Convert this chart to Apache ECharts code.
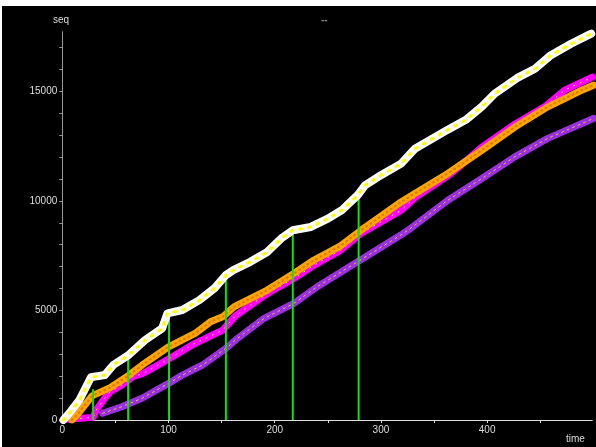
<!DOCTYPE html>
<html>
<head>
<meta charset="utf-8">
<script src="https://cdn.jsdelivr.net/npm/echarts@6/dist/echarts.min.js"></script>
<style>
html,body{margin:0;padding:0;background:#fff;width:596px;height:447px;overflow:hidden;}
#c{position:absolute;left:2px;top:6px;width:594px;height:441px;background:#000;}
</style>
</head>
<body>
<div id="c"></div>
<script>
// ---- data (time, seq) ----
const whiteSeries = [[1,0],[8,400],[16,900],[27,1950],[33,2000],[40,2050],[48,2510],[62,2950],[78,3650],[94,4180],[99,4870],[113,5020],[129,5470],[143,6000],[154,6610],[161,6840],[177,7220],[193,7670],[206,8280],[217,8660],[234,8810],[250,9190],[263,9570],[278,10255],[285,10710],[300,11170],[319,11700],[332,12380],[363,13250],[380,13700],[395,14300],[407,14890],[428,15600],[445,16030],[460,16650],[479,17170],[498,17630]];
const orangeSeries = [[9,0],[14,230],[28,1100],[45,1480],[60,1950],[75,2500],[100,3340],[125,3950],[140,4500],[151,4710],[162,5170],[193,5930],[218,6690],[237,7300],[262,7950],[281,8650],[300,9300],[319,9950],[332,10340],[363,11250],[395,12310],[426,13370],[457,14290],[473,14670],[489,15050],[500,15280]];
const magentaSeries = [[4,30],[29,120],[32,456],[40,1000],[45,1290],[56,1595],[67,2000],[75,2100],[100,2780],[125,3500],[151,4100],[163,4750],[193,5780],[218,6460],[237,7070],[262,7750],[281,8510],[319,9570],[332,10150],[363,11150],[376,11650],[395,12450],[426,13500],[454,14290],[473,15050],[499,15650]];
const purpleSeries = [[38,305],[56,607],[75,990],[100,1670],[113,2050],[132,2510],[154,3270],[163,3650],[190,4640],[218,5320],[240,6080],[278,7220],[319,8450],[328,8750],[363,10030],[395,11020],[426,12010],[457,12850],[500,13760]];
const greenX = [29,62,100.5,154,217,279];
const greenTop = [1400,2820,4700,6350,8550,10200];
const xTicks = [0,50,100,150,200,250,300,350,400,450];
const xLabels = [0,100,200,300,400];
const yTicks = [0,1000,2000,3000,4000,5000,6000,7000,8000,9000,10000,11000,12000,13000,14000,15000,16000,17000];
const yLabels = [0,5000,10000,15000];

const chart = echarts.init(document.getElementById('c'), null, {renderer:'canvas'});
const font = 'Liberation Sans';

function thick(data, color, w){
  return {type:'line', data:data, symbol:'none', smooth:false, silent:true,
    lineStyle:{color:color, width:w, cap:'round', join:'round'}};
}
function overlay(data, color, w, dash){
  return {type:'line', data:data, symbol:'none', smooth:false, silent:true,
    lineStyle:{color:color, width:w, type:dash, cap:'round', join:'round'}};
}
const series = [
  thick(purpleSeries, '#9a30e0', 7),
  overlay(purpleSeries, '#e8c040', 1, [2,4]),
  thick(magentaSeries, '#ff00ff', 7),
  overlay(magentaSeries, '#ffee40', 1, [1,6]),
  thick(orangeSeries, '#ffa500', 7),
  overlay(orangeSeries, '#e07800', 2, [1,4]),
];
greenX.forEach(function(x, i){
  series.push({type:'line', data:[[x,0],[x,greenTop[i]]], symbol:'none', silent:true,
    lineStyle:{color:'#10e010', width:2}});
});
series.push(thick(whiteSeries, '#ffffff', 8));
series.push(overlay(whiteSeries, '#ffff00', 3, [2,7]));

chart.setOption({
  animation:false,
  backgroundColor:'#000',
  grid:{left:60.3, right:3.7, top:25.7, bottom:27, containLabel:false},
  xAxis:{type:'value', min:0, max:499, splitLine:{show:false},
    axisLine:{show:true, onZero:false, lineStyle:{color:'#dddddd', width:1}},
    axisTick:{show:true, length:3, customValues:xTicks, lineStyle:{color:'#dddddd'}},
    axisLabel:{show:true, customValues:xLabels, formatter:function(v){return String(v);}, color:'#dddddd', fontFamily:font, fontSize:10, margin:5}},
  yAxis:{type:'value', min:0, max:17720, splitLine:{show:false},
    axisLine:{show:true, onZero:false, lineStyle:{color:'#999999', width:1}},
    axisTick:{show:true, length:3, customValues:yTicks, lineStyle:{color:'#999999'}},
    axisLabel:{show:true, customValues:yLabels, formatter:function(v){return String(v);}, color:'#dddddd', fontFamily:font, fontSize:10, margin:5}},
  graphic:[
    {type:'text', left:51, top:9, style:{text:'seq', fill:'#dddddd', font:'10px "Liberation Sans"'}},
    {type:'text', left:564, top:428, style:{text:'time', fill:'#dddddd', font:'10px "Liberation Sans"'}},
    {type:'text', left:319, top:9, style:{text:'--', fill:'#888888', font:'bold 10px "Liberation Sans"'}}
  ],
  series:series
});
</script>
</body>
</html>
